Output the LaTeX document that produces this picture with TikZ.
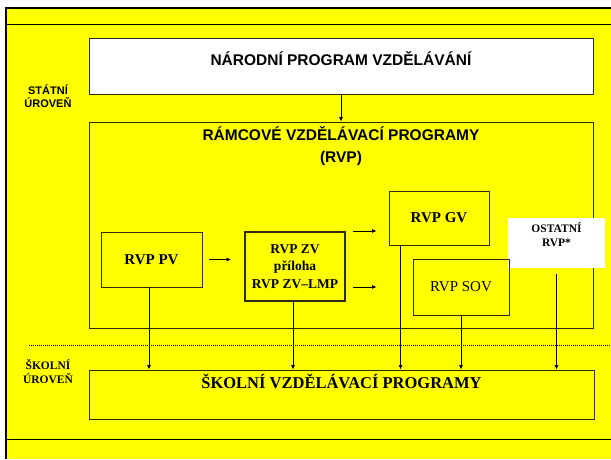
\documentclass[tikz,border=0pt]{standalone}
\usepackage{fontspec}
\setmainfont{Liberation Serif}
\setsansfont{Liberation Sans}
\usetikzlibrary{arrows.meta,positioning}
\definecolor{slideyellow}{RGB}{255,255,0}
\definecolor{boxline}{RGB}{45,45,20}
\tikzset{box/.style={rectangle,draw=boxline,line width=0.9pt,inner sep=0pt},
         head/.style={font=\sffamily\bfseries\fontsize{15.5}{22}\selectfont},
         title/.style={font=\sffamily\bfseries\fontsize{15.5}{22}\selectfont,align=center},
         rvp text/.style={font=\bfseries\fontsize{15}{18}\selectfont},
         zv text/.style={font=\bfseries\fontsize{13.5}{17.5}\selectfont,align=center},
         small text/.style={font=\bfseries\fontsize{11.5}{14}\selectfont,align=center},
         level/.style={align=center,inner sep=0pt}
}

\begin{document}
\begin{tikzpicture}[x=1pt,y=-1pt,
arr/.style={-{Latex[length=4.5pt,width=4pt]},line width=0.7pt},
dotted line/.style={line width=0.7pt,dash pattern=on 0.8pt off 1.2pt}]
\useasboundingbox (0,0) rectangle (611,459);
% slide frame
\fill[slideyellow] (6,8) rectangle (611,459);
\draw[line width=2pt] (6,459) -- (6,8) -- (611,8);
\draw[line width=0.8pt] (6,24) -- (611,24);
\draw[line width=0.8pt] (6,439) -- (611,439);

\node[level,font=\sffamily\bfseries\fontsize{11}{13}\selectfont] (state) at (48,96.5) {STÁTNÍ\\ÚROVEŇ};
\node[level,font=\bfseries\fontsize{11.5}{14}\selectfont] (school) at (48,372) {ŠKOLNÍ\\ÚROVEŇ};

\node[box,fill=white,minimum width=504pt,minimum height=56pt,head,text height=11pt,text depth=12pt] (npv) at (341,66) {NÁRODNÍ PROGRAM VZDĚLÁVÁNÍ};
\node[box,minimum width=504pt,minimum height=206pt] (rvp) at (341,225) {};
\node[title] (rvptitle) at (341,146) {RÁMCOVÉ VZDĚLÁVACÍ PROGRAMY\\(RVP)};

\node[box,minimum width=101pt,minimum height=55pt,rvp text] (pv) at (151.5,259.5) {RVP PV};
\node[box,line width=2pt,minimum width=100pt,minimum height=69pt,zv text] (zv) at (295,266.5) {RVP ZV\\příloha\\RVP ZV–LMP};
\node[box,minimum width=100pt,minimum height=54pt,rvp text] (gv) at (439,218) {RVP GV};
\node[fill=white,minimum width=97pt,minimum height=50pt,inner sep=0pt] (ost) at (556.5,243) {};
\node[small text] (osttext) at (556.5,235) {OSTATNÍ\\RVP*};
\node[box,minimum width=96pt,minimum height=56pt,font=\fontsize{15}{18}\selectfont] (sov) at (461,287) {RVP SOV};

\node[box,minimum width=505pt,minimum height=49pt,font=\bfseries\fontsize{16.5}{20}\selectfont,text height=11pt,text depth=23pt] (svp) at (341.5,394.5) {ŠKOLNÍ VZDĚLÁVACÍ PROGRAMY};

\draw[dotted line] (29,345) -- (611,345);

% state level links
\draw[arr] (npv.south) -- (rvp.north);
\draw[arr,shorten <=7pt,shorten >=13pt] (pv.east) -- (zv.west |- pv.east);
\draw[arr,shorten <=7pt,shorten >=12pt] (zv.north east) -- (gv.west |- zv.north east);
\coordinate (zvlow) at ([yshift=-20.5pt]zv.east);
\draw[arr,shorten <=7pt,shorten >=12pt] (zvlow) -- (zvlow -| gv.west);

% down to school level
\draw[arr] ([xshift=-2.5pt]pv.south) coordinate (s1) -- (s1 |- svp.north);
\draw[arr] ([xshift=-2pt]zv.south) coordinate (s2) -- (s2 |- svp.north);
\draw[arr] ([xshift=12pt]gv.south west) coordinate (s3) -- (s3 |- svp.north);
\draw[arr] (sov.south) -- (sov.south |- svp.north);
\draw[arr] ([yshift=-6pt]ost.south) coordinate (s5) -- (s5 |- svp.north);

\end{tikzpicture}
\end{document}
